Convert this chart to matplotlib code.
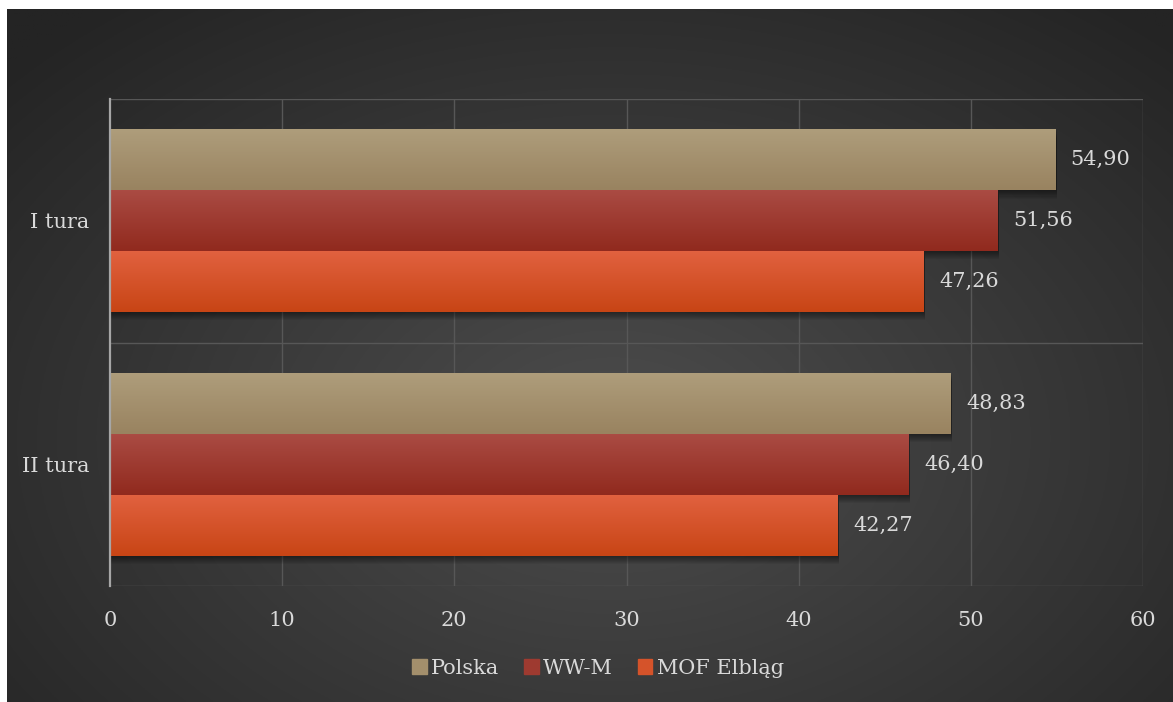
import matplotlib.pyplot as plt
import matplotlib.colors as mcolors
from matplotlib.patches import Rectangle
import numpy as np

# dane
categories = ["I tura", "II tura"]
series = ["Polska", "WW-M", "MOF Elbląg"]
polska = [54.90, 48.83]
wwm = [51.56, 46.40]
mof = [47.26, 42.27]
values = [polska, wwm, mof]

# kolory gradientu (góra, dół)
grad = [("#ae9d7b", "#998360"), ("#aa4b43", "#912a1e"), ("#e1613f", "#c84515")]
mid = ["#a38f6c", "#9e3a30", "#d5532a"]
txt = "#d9d9d9"

plt.rcParams["font.family"] = ["DejaVu Serif"]

fig = plt.figure(figsize=(11.73, 7.02), dpi=100)
fig.patch.set_facecolor("white")

# tło - gradient radialny
bg = fig.add_axes([7 / 1173, 0, 1166 / 1173, 693 / 702])
bg.axis("off")
yy, xx = np.mgrid[0:1:400j, 0:1:600j]
r = np.sqrt(((xx - 0.52) / 0.7) ** 2 + ((yy - 0.62) / 0.8) ** 2)
r = np.clip(r, 0, 1)
c0 = np.array(mcolors.to_rgb("#4d4d4d"))
c1 = np.array(mcolors.to_rgb("#242424"))
img = c0[None, None, :] + (c1 - c0)[None, None, :] * r[..., None]
bg.imshow(img, aspect="auto", extent=(0, 1, 0, 1), origin="upper")
bg.set_xlim(0, 1)
bg.set_ylim(0, 1)

ax = fig.add_axes([110 / 1173, 116 / 702, 1033 / 1173, 487 / 702])
ax.set_facecolor("none")

h = 0.25
offsets = [-0.25, 0, 0.25]
y = np.arange(len(categories))

for vals, off, (ctop, cbot) in zip(values, offsets, grad):
    cmap = mcolors.LinearSegmentedColormap.from_list("g", [ctop, cbot])
    for yi, v in zip(y, vals):
        yc = yi + off
        # miękki cień pod słupkiem
        for k in np.linspace(0.004, 0.034, 8):
            ax.add_patch(Rectangle((0, yc - h / 2 + k), v + 0.08, h, color="black",
                                   alpha=0.06, lw=0, zorder=2))
        bar = ax.barh(yc, v, height=h, color=ctop, lw=0, zorder=3)[0]
        im = ax.imshow(np.linspace(0, 1, 50)[:, None], cmap=cmap, aspect="auto",
                       extent=(0, v, yc + h / 2, yc - h / 2), origin="upper", zorder=4)
        im.set_clip_path(bar)
        ax.annotate(f"{v:.2f}".replace(".", ","), (v, yc), xytext=(11, 0),
                    textcoords="offset points", va="center", ha="left",
                    color=txt, fontsize=15, zorder=5)

ax.set_xlim(0, 60)
ax.set_ylim(1.5, -0.5)
ax.set_xticks(range(0, 61, 10))
ax.set_yticks(y)
ax.set_yticklabels(categories)
ax.tick_params(axis="x", length=0, pad=18, labelsize=15, colors=txt)
ax.tick_params(axis="y", length=0, pad=15, labelsize=15, colors=txt)

for xv in range(10, 61, 10):
    ax.axvline(xv, color="#575757", lw=1.0, zorder=1)
for yv in [-0.5, 0.5, 1.5]:
    ax.axhline(yv, color="#575757", lw=1.0, zorder=1)
for s in ["top", "right", "bottom"]:
    ax.spines[s].set_visible(False)
ax.spines["left"].set_color("#a6a6a6")
ax.spines["left"].set_linewidth(1.6)
ax.spines["left"].set_zorder(6)

handles = [Rectangle((0, 0), 1, 1, color=c) for c in mid]
fig.legend(handles, series, loc="center", bbox_to_anchor=(598 / 1173, 1 - 668 / 702),
           ncol=3, frameon=False, fontsize=15, labelcolor=txt,
           handlelength=0.7, handleheight=0.7, handletextpad=0.2, columnspacing=1.2)

fig.savefig("out.png", dpi=100)
